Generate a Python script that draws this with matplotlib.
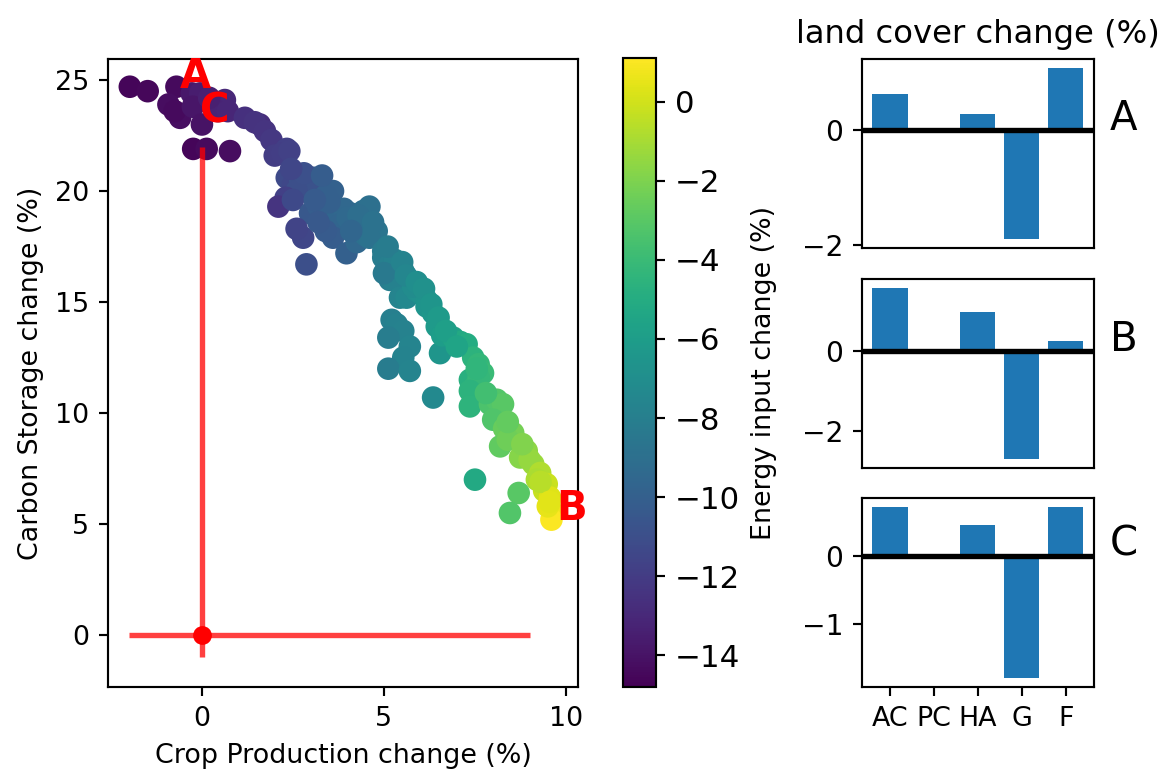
import matplotlib
matplotlib.use("Agg")
import matplotlib.pyplot as plt
import numpy as np

# scatter: crop production change, carbon storage change, energy input change (all %)
crop_change = [
    -1.98, -1.49, -0.70, -0.92, -0.60, -0.75, -0.28, -0.05, -0.25, 0.00,
    -0.24, 0.13, 0.77, 0.63, 0.44, 0.71, 0.20, 1.18, 1.59, 1.45,
    1.73, 1.91, 2.33, 2.00, 2.20, 2.40,
    2.33, 2.50, 2.70, 2.90, 3.05, 3.24, 3.00, 2.60, 2.30, 3.60,
    3.40, 2.10, 2.50, 2.97, 3.20, 3.43, 3.70, 4.07, 4.43, 4.60,
    3.90, 4.20, 3.80, 2.78, 2.87, 2.60, 3.60, 3.97, 4.25, 3.40,
    4.50, 4.80, 4.60,
    4.98, 4.98, 5.16, 5.30, 5.44, 5.53, 5.70, 5.71, 5.16, 5.25,
    5.44, 5.62, 5.90, 6.00, 6.17, 6.17, 6.35, 5.80, 5.00,
    5.21, 5.35, 5.53, 5.12, 5.71, 5.53, 5.12, 5.71, 6.35,
    6.45, 6.54, 6.60, 6.90, 7.10, 7.27, 7.45, 7.60, 7.72, 7.36,
    7.50, 7.45, 7.60, 7.36, 7.36, 7.91, 8.10, 8.27, 8.00, 8.55,
    8.30, 8.19, 8.40, 8.92, 8.74, 9.10, 9.00, 9.29, 9.20, 9.47,
    9.40, 9.56, 9.60, 9.60, 9.50,
    7.50, 8.70, 8.46,
    2.80, 3.30, 2.45, 3.50, 3.10, 4.00, 4.30, 4.70, 4.10, 3.20,
    5.10, 5.50, 5.60, 5.90, 6.10, 6.30, 6.50, 6.70, 7.00, 7.55,
    7.80, 8.40, 8.80, 9.30, 9.55,
]
carbon_change = [
    24.7, 24.5, 24.7, 23.9, 23.3, 23.6, 24.4, 24.4, 23.8, 23.0,
    21.9, 21.9, 21.8, 24.1, 23.6, 23.6, 24.2, 23.3, 23.0, 23.1,
    22.7, 22.3, 21.9, 21.6, 21.7, 21.8,
    20.6, 20.3, 20.5, 20.4, 20.6, 20.3, 20.1, 20.0, 19.7, 20.0,
    19.8, 19.3, 19.6, 19.0, 19.3, 19.1, 18.7, 19.0, 19.1, 19.3,
    19.2, 18.6, 18.5, 17.9, 16.7, 18.3, 17.9, 17.2, 17.7, 18.2,
    18.0, 18.2, 17.9,
    17.3, 17.0, 16.7, 16.9, 16.4, 16.4, 16.0, 15.9, 16.0, 16.0,
    15.2, 15.2, 15.5, 15.4, 15.1, 14.8, 14.5, 15.7, 16.3,
    14.2, 14.0, 13.7, 13.4, 13.0, 12.5, 12.0, 11.9, 10.7,
    13.9, 12.7, 13.5, 13.4, 13.2, 13.1, 12.5, 12.2, 11.8, 11.5,
    11.2, 10.7, 11.6, 11.0, 10.3, 10.4, 10.6, 10.4, 9.7, 9.1,
    9.3, 8.5, 8.8, 8.3, 8.0, 7.7, 7.9, 7.3, 7.0, 6.8,
    6.5, 6.2, 5.6, 5.2, 5.8,
    7.0, 6.4, 5.5,
    20.8, 20.7, 21.0, 19.5, 19.6, 18.8, 18.9, 18.6, 18.2, 18.6,
    17.5, 16.8, 16.2, 15.9, 15.6, 14.9, 14.3, 13.7, 13.0, 12.0,
    10.9, 9.6, 8.6, 6.9, 6.0,
]
energy_change = [
    -14.6, -14.5, -14.4, -14.3, -14.2, -14.4, -13.8, -13.5, -13.9, -14.0,
    -14.6, -14.4, -14.3, -13.0, -13.2, -13.1, -13.4, -12.6, -12.8, -12.5,
    -12.4, -12.2, -11.8, -12.0, -11.9, -11.7,
    -11.2, -11.4, -10.8, -10.6, -10.4, -10.3, -10.8, -11.0, -11.8, -9.9,
    -10.0, -12.4, -11.3, -10.5, -10.2, -10.0, -9.6, -9.3, -9.1, -9.0,
    -9.5, -9.2, -9.7, -11.5, -11.0, -11.6, -10.2, -10.0, -9.5, -10.3,
    -9.0, -8.6, -8.8,
    -8.3, -8.2, -8.0, -7.9, -7.6, -7.5, -7.3, -7.2, -8.1, -7.9,
    -7.6, -7.4, -7.0, -6.9, -6.7, -6.6, -6.4, -7.1, -8.4,
    -8.0, -7.9, -7.8, -8.1, -7.6, -7.7, -8.2, -7.6, -7.3,
    -6.2, -6.5, -6.0, -5.6, -5.2, -5.0, -4.6, -4.3, -4.0, -4.8,
    -4.4, -4.4, -4.2, -4.6, -4.5, -3.4, -3.2, -3.0, -3.3, -2.2,
    -2.6, -2.8, -2.4, -1.6, -1.8, -1.2, -1.4, -0.8, -0.9, -0.2,
    -0.3, 0.3, 0.7, 1.0, 0.5,
    -5.2, -3.0, -3.2,
    -10.9, -10.2, -11.5, -10.0, -10.3, -9.4, -9.1, -8.8, -9.6, -10.4,
    -8.2, -7.7, -7.5, -7.0, -6.8, -6.5, -6.2, -5.9, -5.5, -4.4,
    -3.7, -2.7, -1.9, -0.6, 0.4,
]

# reference point and its range
ref_x, ref_y = 0, 0
ref_xerr = [[2], [9]]
ref_yerr = [[1], [22]]

# labelled solutions on the front
point_names = ["A", "B", "C"]
point_x = [-0.6, 9.73, -0.05]
point_y = [24.65, 5.2, 23.1]

# land cover change of each labelled solution
land_cover = ["AC", "PC", "HA", "G", "F"]
change_A = [0.62, 0.0, 0.28, -1.91, 1.09]
change_B = [1.61, 0.0, 1.00, -2.73, 0.26]
change_C = [0.72, 0.0, 0.45, -1.80, 0.72]

DPI = 1160 / 6.0
fig = plt.figure(figsize=(6.0, 769 / DPI), dpi=DPI)

ax = fig.add_axes([0.0931, 0.1066, 0.4052, 0.8167])
sc = ax.scatter(crop_change, carbon_change, c=energy_change, cmap="viridis",
                vmin=-14.8, vmax=1.1, s=55)
ax.errorbar(ref_x, ref_y, xerr=ref_xerr, yerr=ref_yerr, fmt="none", ecolor="red",
            alpha=0.75, lw=2)
ax.plot(ref_x, ref_y, "o", color="red", ms=7, mew=0)
for name, px, py in zip(point_names, point_x, point_y):
    ax.text(px, py, name, color="red", fontsize=15, fontweight="bold")
ax.set_xlim(-2.58, 10.33)
ax.set_ylim(-2.34, 25.95)
ax.set_xlabel("Crop Production change (%)")
ax.set_ylabel("Carbon Storage change (%)")

cax = fig.add_axes([0.537, 0.1066, 0.0284, 0.818])
cb = fig.colorbar(sc, cax=cax)
cb.ax.tick_params(labelsize=11.5)
cb.set_label("Energy input change (%)")

positions = np.arange(len(land_cover))
bar_rows = [(change_A, "A", 0.6775), (change_B, "B", 0.3914), (change_C, "C", 0.1066)]
for i, (vals, name, bottom) in enumerate(bar_rows):
    bax = fig.add_axes([0.743, bottom, 0.2, 0.2458])
    bax.bar(positions, vals, color="tab:blue")
    bax.axhline(0, color="k", lw=2)
    bax.text(5.0, 0, name, fontsize=15)
    bax.tick_params(axis="y", labelsize=10.5)
    if i == 0:
        bax.set_title("land cover change (%)")
    if i < 2:
        bax.set_xticks([])
    else:
        bax.set_xticks(positions)
        bax.set_xticklabels(land_cover)

fig.savefig("out.png", dpi=DPI)
